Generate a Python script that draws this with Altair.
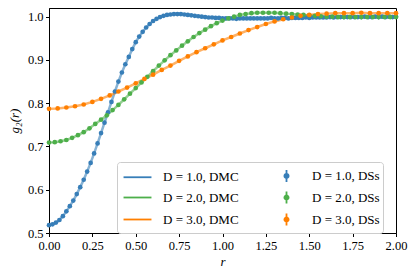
import altair as alt
import pandas as pd

# g2(r) values (D = 1.0 on a 0.02 grid, D = 2.0 on a 1/30 grid, D = 3.0 on a 0.05 grid)
blue_g = [0.518, 0.520, 0.524, 0.530, 0.539, 0.550, 0.562, 0.575, 0.590, 0.606,
          0.623, 0.642, 0.662, 0.684, 0.707, 0.731, 0.755, 0.779, 0.803, 0.827,
          0.850, 0.871, 0.890, 0.907, 0.925, 0.941, 0.954, 0.965, 0.975, 0.983,
          0.990, 0.995, 0.999, 1.002, 1.004, 1.005, 1.006, 1.006, 1.006, 1.005,
          1.004, 1.003, 1.002, 1.001, 1.000, 0.999, 0.998, 0.998, 0.997, 0.997,
          0.996,
          0.996, 0.996, 0.996, 0.995, 0.996, 0.996, 0.996, 0.996, 0.996, 0.996,
          0.996, 0.996, 0.996, 0.997, 0.996, 0.996, 0.997, 0.997, 0.996, 0.997,
          0.997, 0.997, 0.997, 0.998, 0.997, 0.998, 0.998, 0.998, 0.998, 0.998,
          0.999, 0.998, 0.999, 0.999, 0.999, 0.999, 0.999, 0.999, 0.999, 0.999,
          1.000, 0.999, 0.999, 1.000, 0.999, 1.000, 0.999, 1.000, 0.999, 1.000]
green_g = [0.709, 0.710, 0.712, 0.715, 0.720, 0.726, 0.733, 0.742, 0.752, 0.762,
           0.772, 0.784, 0.796, 0.809, 0.822, 0.835, 0.848, 0.861, 0.874, 0.887,
           0.899, 0.911, 0.922, 0.933, 0.943, 0.953, 0.962, 0.970, 0.978, 0.985,
           0.991, 0.996, 1.000, 1.004, 1.006, 1.008, 1.009, 1.009, 1.009, 1.009,
           1.008, 1.007, 1.006, 1.005, 1.004, 1.003, 1.002, 1.001, 1.000, 1.000,
           0.999, 0.999, 0.999, 0.999, 0.999, 0.999, 0.999, 0.999, 0.999, 0.999,
           0.999]
orange_g = [0.787, 0.788, 0.790, 0.793, 0.797, 0.803, 0.810, 0.818, 0.827, 0.836,
            0.846, 0.856, 0.866, 0.877, 0.887, 0.898, 0.908, 0.918, 0.927, 0.936,
            0.945, 0.953, 0.961, 0.969, 0.976, 0.983, 0.989, 0.994, 0.998, 1.002,
            1.004, 1.006, 1.007, 1.008, 1.008, 1.008, 1.009, 1.008, 1.008, 1.008,
            1.008]
grid_steps = [0.02, 1 / 30, 0.05]
series_g = [blue_g, green_g, orange_g]
labels_dmc = ["D = 1.0, DMC", "D = 2.0, DMC", "D = 3.0, DMC"]
labels_dss = ["D = 1.0, DSs", "D = 2.0, DSs", "D = 3.0, DSs"]
colors = ["#377eb8", "#4daf4a", "#ff7f00"]
x_ticks = [0.0, 0.25, 0.5, 0.75, 1.0, 1.25, 1.5, 1.75, 2.0]
y_ticks = [0.5, 0.6, 0.7, 0.8, 0.9, 1.0]

rows = []
for gs, step, ldmc, ldss in zip(series_g, grid_steps, labels_dmc, labels_dss):
    for i, g in enumerate(gs):
        r = i * step
        rows.append({"r": r, "g": g, "label": ldmc, "kind": "DMC"})
        rows.append({"r": r, "g": g, "label": ldss, "kind": "DSs"})
df = pd.DataFrame(rows)

# legend fills column by column: DMC entries in the first column, DSs in the second
domain = labels_dmc + labels_dss
rng = colors + colors

LINE_SHAPE = "M-1.47,0L1.47,0"
ERR_SHAPE = "M0,-0.63L0,0.63M-0.22,0A0.22,0.22 0 1,0 0.22,0A0.22,0.22 0 1,0 -0.22,0Z"
shapes = [LINE_SHAPE] * 3 + [ERR_SHAPE] * 3

color_scale = alt.Scale(domain=domain, range=rng)
stroke_scale = alt.Scale(domain=domain, range=rng)
shape_scale = alt.Scale(domain=domain, range=shapes)

x = alt.X("r:Q", scale=alt.Scale(domain=[0, 2], nice=False),
          axis=alt.Axis(values=x_ticks, format=".2f", title="r", titlePadding=4))
y = alt.Y("g:Q", scale=alt.Scale(domain=[0.5, 1.02], nice=False, zero=False),
          axis=alt.Axis(values=y_ticks, format=".1f", title="g₂(r)", titlePadding=6))

base = alt.Chart(df)

lines = base.transform_filter("datum.kind == 'DMC'").mark_line(
    strokeWidth=2.5, opacity=0.6).encode(
    x=x, y=y, color=alt.Color("label:N", scale=color_scale, legend=None))

points = base.transform_filter("datum.kind == 'DSs'").mark_circle(
    size=22, opacity=1).encode(
    x=x, y=y, color=alt.Color("label:N", scale=color_scale, legend=None))

def make_legend():
    return alt.Legend(
        title=None, orient="none", legendX=68, legendY=154, columns=2,
        fillColor="white", strokeColor="#cccccc", cornerRadius=3, padding=3,
        symbolSize=361, symbolStrokeWidth=1.8, symbolOffset=7,
        labelFont="Liberation Serif", labelFontSize=13, labelFontWeight="normal",
        labelColor="black",
        labelOffset=15, columnPadding=30, rowPadding=1, labelLimit=200)

# legend-only layer (no rows survive the filter); placed first so its legend settings win
leg = base.transform_filter("datum.r < 0").mark_point(filled=True, opacity=1).encode(
    x=x, y=y,
    color=alt.Color("label:N", scale=color_scale, legend=make_legend()),
    stroke=alt.Stroke("label:N", scale=stroke_scale, legend=make_legend()),
    shape=alt.Shape("label:N", scale=shape_scale, legend=make_legend()),
)

chart = alt.layer(leg, lines, points).properties(
    width=347, height=225,
    autosize=alt.AutoSizeParams(type="none"),
    padding={"left": 41, "top": 0, "right": 12, "bottom": 40},
).configure_view(stroke="black", strokeWidth=1).configure_axis(
    domainColor="black", tickColor="black", labelColor="black", titleColor="black",
    grid=False, labelFont="Liberation Serif", titleFont="Liberation Serif",
    labelFontSize=12.5, titleFontSize=13, tickSize=3.5, labelPadding=2.5,
    labelFlush=False,
    titleFontWeight="normal", titleFontStyle="italic", domainWidth=1, tickWidth=1,
)

chart.save("out.html", embed_options={"renderer": "svg", "actions": False})
